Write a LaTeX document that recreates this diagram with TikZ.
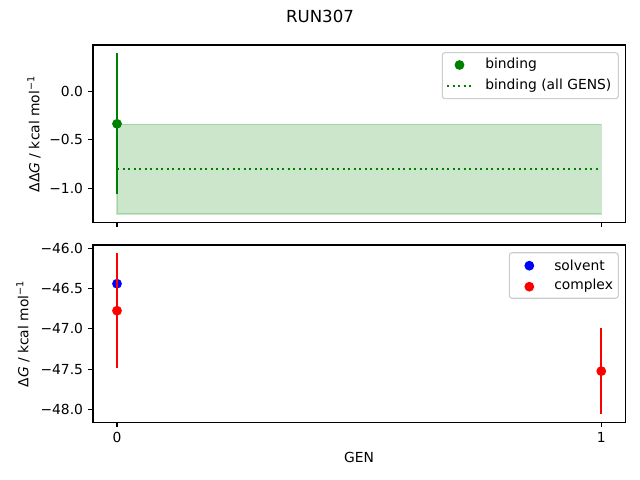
\documentclass[tikz,border=0pt]{standalone}
\usepackage{fontspec}
\setmainfont{DejaVu Sans}
\usetikzlibrary{positioning}
\definecolor{mplgreen}{HTML}{008000}
\definecolor{mplblue}{HTML}{0000FF}
\definecolor{mplred}{HTML}{FF0000}
\definecolor{legendedge}{HTML}{CCCCCC}
\tikzstyle{axesbox}   = [draw=black, line width=0.8pt]
\tikzstyle{tickline}  = [draw=black, line width=0.8pt]
\tikzstyle{ylabnode}  = [anchor=east, inner sep=0pt, font=\fontsize{10}{12}\selectfont]
\tikzstyle{xlabnode}  = [anchor=north, inner sep=0pt, font=\fontsize{10}{12}\selectfont]
\tikzstyle{datadot}   = [circle, inner sep=0pt, minimum size=6pt, line width=1pt]
\tikzstyle{errbar}    = [line width=1.5pt]
\tikzstyle{legendbox} = [draw=legendedge, fill=white, fill opacity=0.8, rounded corners=2pt, line width=0.8pt]
\tikzstyle{legtext}   = [anchor=west, inner sep=0pt, font=\fontsize{10}{12}\selectfont]

\begin{document}
\begin{tikzpicture}[x=0.01in, y=-0.01in]
    \useasboundingbox (0,0) rectangle (640,480);

    \node[font=\fontsize{12}{14}\selectfont] (title) at (320,16) {RUN307};

    % upper axes: binding free energy
    \begin{scope}[shift={(117,91.3)}, x=4.84in, y=0.97in]
        \fill[mplgreen, opacity=0.2] (0,-1.265) rectangle (1,-0.34);
        \draw[mplgreen, opacity=0.2, line width=1pt] (0,-1.265) rectangle (1,-0.34);
        \draw[mplgreen, line width=1.5pt, dash pattern=on 1.5pt off 2.475pt] (0,-0.80) -- (1,-0.80);
        \coordinate (bhi) at (0,0.39);
        \coordinate (blo) at (0,-1.06);
        \draw[errbar, mplgreen] (bhi) -- (blo);
        \node[datadot, fill=mplgreen, draw=mplgreen] (bind) at (0,-0.335) {};
        \draw[axesbox] (-0.0496,-1.35) rectangle (1.0496,0.477);
        \foreach \v/\t in {0/0.0, -0.5/−0.5, -1/−1.0} {
            \draw[tickline] (-0.0496,\v) -- ++(-0.0486in,0);
            \node[ylabnode] (ylab\v) at ([xshift=-0.0972in]-0.0496,\v) {\t};
        }
        \foreach \g in {0,1}
            \draw[tickline] (\g,-1.35) -- ++(0,-0.0486in);
    \end{scope}
    \node[rotate=90, font=\fontsize{10}{12}\selectfont] (ylabtop) at (34,134)
        {ΔΔ\textit{G} / kcal mol\textsuperscript{−1}};

    % upper legend
    \draw[legendbox] (442.3,52.7) rectangle (618.3,98.7);
    \node[datadot, fill=mplgreen, draw=mplgreen] (legbind) at (459.5,65) {};
    \coordinate (legdotA) at (447,86);
    \coordinate (legdotB) at (472,86);
    \draw[mplgreen, line width=1.5pt, dash pattern=on 1.5pt off 2.475pt] (legdotA) -- (legdotB);
    \node[legtext] (txtbind) at (485,65) {binding};
    \node[legtext] (txtall) at (485,86) {binding (all GENS)};

    % lower axes: solvent and complex legs
    \begin{scope}[shift={(117,248.3)}, x=4.84in, y=0.805in, shift={(0,46)}]
        \node[datadot, fill=mplblue, draw=mplblue] (solv0) at (0,-46.44) {};
        \coordinate (chi0) at (0,-46.06);
        \coordinate (clo0) at (0,-47.49);
        \draw[errbar, mplred] (chi0) -- (clo0);
        \node[datadot, fill=mplred, draw=mplred] (cplx0) at (0,-46.775) {};
        \coordinate (chi1) at (1,-46.99);
        \coordinate (clo1) at (1,-48.06);
        \draw[errbar, mplred] (chi1) -- (clo1);
        \node[datadot, fill=mplred, draw=mplred] (cplx1) at (1,-47.525) {};
        \draw[axesbox] (-0.0496,-48.161) rectangle (1.0496,-45.959);
        \foreach \v/\t in {-46/−46.0, -46.5/−46.5, -47/−47.0, -47.5/−47.5, -48/−48.0} {
            \draw[tickline] (-0.0496,\v) -- ++(-0.0486in,0);
            \node[ylabnode] (ylab\v) at ([xshift=-0.0972in]-0.0496,\v) {\t};
        }
        \foreach \g in {0,1} {
            \draw[tickline] (\g,-48.161) -- ++(0,-0.0486in);
            \node[xlabnode] (xlab\g) at ([yshift=-0.0972in]\g,-48.161) {\g};
        }
    \end{scope}
    \node[rotate=90, font=\fontsize{10}{12}\selectfont] (ylabbot) at (23,334)
        {Δ\textit{G} / kcal mol\textsuperscript{−1}};
    \node[font=\fontsize{10}{12}\selectfont] (xlabgen) at (359,457) {GEN};

    % lower legend
    \draw[legendbox] (509.3,252.7) rectangle (618.3,298.3);
    \node[datadot, fill=mplblue, draw=mplblue] (legsolv) at (529.3,265.7) {};
    \node[datadot, fill=mplred, draw=mplred] (legcplx) at (529.3,286.7) {};
    \node[legtext] (txtsolv) at (554,265) {solvent};
    \node[legtext] (txtcplx) at (554,286) {complex};
\end{tikzpicture}
\end{document}
